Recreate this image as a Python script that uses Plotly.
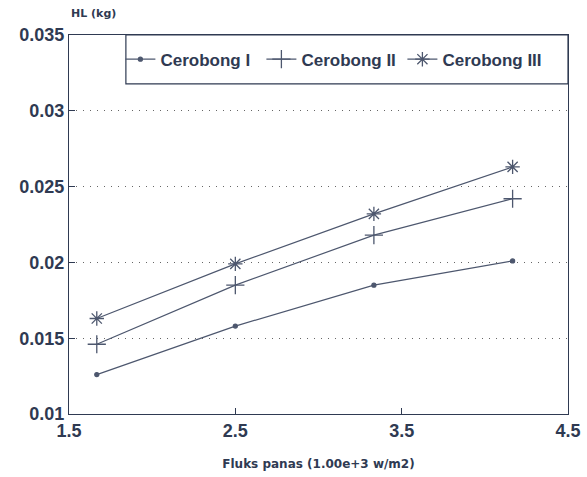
import plotly.graph_objects as go

fluks = [1.667, 2.5, 3.333, 4.167]
cerobong_1 = [0.0126, 0.0158, 0.0185, 0.0201]
cerobong_2 = [0.0146, 0.0185, 0.0218, 0.0242]
cerobong_3 = [0.0163, 0.0199, 0.0232, 0.0263]
series_names = ["Cerobong I", "Cerobong II", "Cerobong III"]
x_ticks = [1.5, 2.5, 3.5, 4.5]
y_ticks = [0.01, 0.015, 0.02, 0.025, 0.03, 0.035]
y_ticklabels = ["0.01", "0.015", "0.02", "0.025", "0.03", "0.035"]

ink = "#2f3a52"
line_col = "#4d576e"
font = "Liberation Sans"
title_font = "DejaVu Sans"

fig = go.Figure()
symbols = ["circle", "cross-thin", "asterisk-open"]
sizes = [4, 13, 12]
for name, ys, sym, sz in zip(series_names, [cerobong_1, cerobong_2, cerobong_3], symbols, sizes):
    fig.add_trace(go.Scatter(
        x=fluks, y=ys, name=name, mode="lines+markers",
        line=dict(color=line_col, width=1.2),
        marker=dict(symbol=sym, size=sz, color=line_col,
                    line=dict(color=line_col, width=1.3)),
    ))

fig.update_layout(
    width=587, height=477,
    margin=dict(l=69, r=19, t=35, b=63, autoexpand=False),
    paper_bgcolor="white", plot_bgcolor="white",
    font=dict(family=font, color=ink),
    showlegend=True,
    legend=dict(orientation="h", x=0.103, y=0.935, xanchor="left", yanchor="middle",
                bgcolor="rgba(0,0,0,0)", font=dict(size=17, weight="bold", color=ink),
                itemwidth=30, traceorder="normal", entrywidth=96),
    shapes=[dict(type="rect", xref="paper", yref="paper", x0=0.114, x1=1.0, y0=0.871, y1=1.0,
                 line=dict(color=ink, width=1.2), fillcolor="white", layer="below")],
    annotations=[dict(text="HL (kg)", xref="paper", yref="paper", x=0.0, y=1.0,
                      xanchor="left", yanchor="bottom", yshift=13, showarrow=False,
                      font=dict(family=title_font, size=11, weight="bold", color=ink))],
)
fig.update_xaxes(
    range=[1.5, 4.5], tickvals=x_ticks, ticktext=[str(v) for v in x_ticks],
    ticks="inside", ticklen=6, tickcolor=ink, showline=True, linecolor=ink, linewidth=1.2,
    mirror=True, showgrid=False, zeroline=False, automargin=False,
    tickfont=dict(size=18, weight="bold", color=ink),
    title=dict(text="Fluks panas (1.00e+3 w/m2)",
               font=dict(family=title_font, size=12, weight="bold", color=ink), standoff=19),
)
fig.update_yaxes(
    range=[0.01, 0.035], tickvals=y_ticks, ticktext=y_ticklabels,
    ticks="inside", ticklen=6, tickcolor=ink, showline=True, linecolor=ink, linewidth=1.2,
    mirror=True, showgrid=True, gridcolor="#666", griddash="1px,6px", gridwidth=1.2, zeroline=False,
    automargin=False,
    tickfont=dict(size=18, weight="bold", color=ink),
)
fig.write_html("out.html", config={"displayModeBar": False},
               post_script="document.body.style.margin='0';")
